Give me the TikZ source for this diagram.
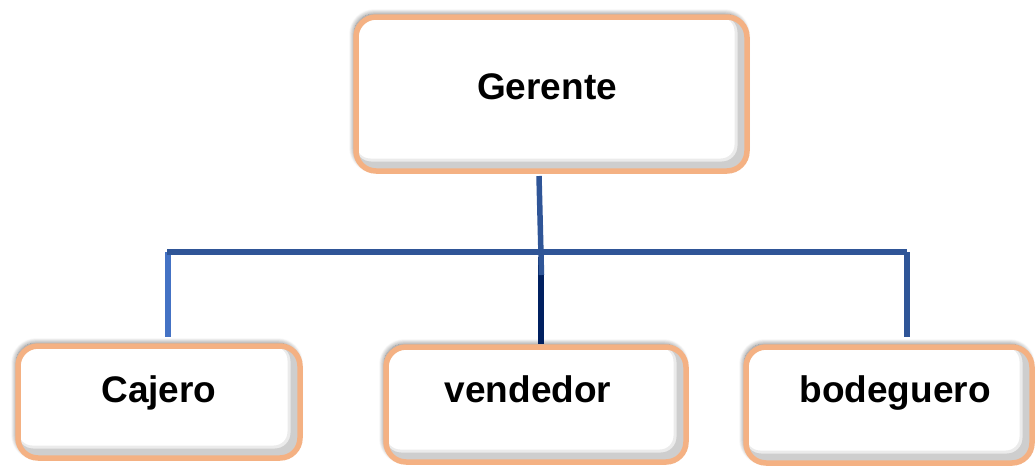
\documentclass[tikz,border=0pt]{standalone}
\usepackage{fontspec}
\setmainfont{Liberation Sans}
\usetikzlibrary{shadows.blur}
\definecolor{boxline}{RGB}{244,177,131}
\definecolor{busblue}{RGB}{47,85,151}
\definecolor{leftblue}{RGB}{68,114,196}
\definecolor{navy}{RGB}{0,32,96}
\tikzset{
  orgbox/.style={
    rectangle, rounded corners=20pt, draw=boxline, line width=5.5pt,
    fill=white, inner sep=0pt, outer sep=0pt,
    font=\fontsize{37}{40}\selectfont\bfseries,
    blur shadow={shadow xshift=-2pt, shadow yshift=3pt,
                 shadow blur radius=5pt, shadow opacity=55, shadow blur steps=10},
    path picture={
      \draw[rounded corners=20pt, line width=13pt, draw=black, opacity=0.08]
        ([shift={(-6pt,6pt)}]path picture bounding box.south west) rectangle
        ([shift={(-6pt,6pt)}]path picture bounding box.north east);
      \draw[rounded corners=20pt, line width=9pt, draw=black, opacity=0.12]
        ([shift={(-5pt,5pt)}]path picture bounding box.south west) rectangle
        ([shift={(-5pt,5pt)}]path picture bounding box.north east);
    }
  },
  wire/.style={line width=5.5pt, line cap=butt}
}
\begin{document}
\begin{tikzpicture}[x=1pt, y=-1pt]
\useasboundingbox (0,0) rectangle (1036,467);

% boxes
\node[orgbox, minimum width=391pt, text height=82pt, text depth=72pt]
  (ger) at (551.5,94) {Gerente\hspace*{9pt}};
\node[orgbox, minimum width=282pt, text height=56pt, text depth=56pt]
  (caj) at (159,402) {Cajero};
\node[orgbox, minimum width=300pt, text height=55pt, text depth=60pt]
  (ven) at (536,404.5) {vendedor\hspace*{16pt}};
\node[orgbox, minimum width=286pt, text height=55pt, text depth=61pt]
  (bod) at (889,405) {\hspace*{12pt}bodeguero};

% connectors
\coordinate (busL) at (168,252);
\coordinate (busR) at (907,252);
\coordinate (busM) at (541,257);
\draw[wire, navy] (busM) -- ([yshift=3pt]busM |- ven.north);
\draw[wire, leftblue] (busL) -- ([yshift=9pt]busL |- caj.north);
\draw[wire, busblue] (busR) -- ([yshift=10pt]busR |- bod.north);
\draw[wire, busblue] ([xshift=-1pt]busL) -- (busR);
\draw[wire, busblue] ([xshift=-12.5pt,yshift=-5pt]ger.south) -- ++(2.5,99);
\end{tikzpicture}
\end{document}
